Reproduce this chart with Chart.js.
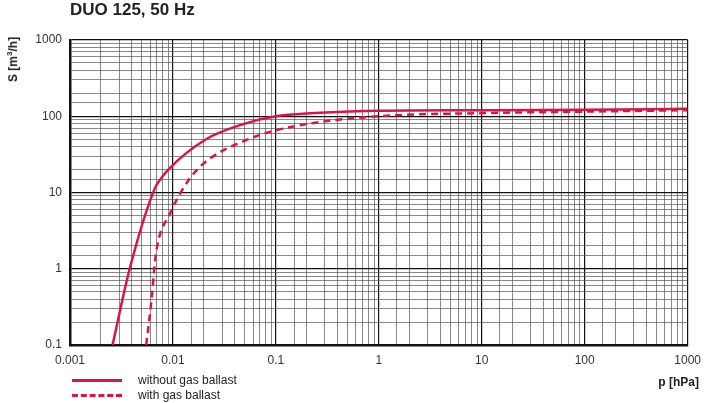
<!DOCTYPE html>
<html>
<head>
<meta charset="utf-8">
<script src="https://cdn.jsdelivr.net/npm/chart.js@4"></script>
<style>
body{margin:0;background:#fff;font-family:"Liberation Sans",Arial,sans-serif;}
#wrap{position:relative;width:709px;height:403px;}
#titulo{position:absolute;left:70px;top:0px;font-weight:bold;font-size:17px;color:#222;}
#ylab{position:absolute;left:-10px;top:52px;transform:rotate(-90deg);font-weight:bold;font-size:12px;color:#222;}
#xlab{position:absolute;right:10px;top:375px;font-weight:bold;font-size:12px;color:#222;}
.ley{position:absolute;left:72px;font-size:12px;color:#222;}
.ley span{display:inline-block;width:50px;margin-right:16px;vertical-align:middle;}
</style>
</head>
<body>
<div id="wrap">
<canvas id="grafica" width="709" height="403"></canvas>
<div id="titulo">DUO 125, 50 Hz</div>
<div id="ylab">S [m<sup style="font-size:8px">3</sup>/h]</div>
<div id="xlab">p [hPa]</div>
<div class="ley" style="top:373px"><span style="border-top:3px solid #dc1446"></span>without gas ballast</div>
<div class="ley" style="top:388px"><span style="border-top:3px dashed #dc1446"></span>with gas ballast</div>
</div>
<script>
'use strict'
//Datos
const p_sin = [0.00259, 0.0038, 0.0066, 0.0073, 0.009, 0.021, 0.05, 0.1, 0.3, 1, 10, 100, 1000];
const s_sin = [0.1, 1, 11, 14, 20, 50, 80, 100, 112, 118, 120, 122, 125];
const p_con = [0.0055, 0.0062, 0.0068, 0.0095, 0.0119, 0.0178, 0.054, 0.16, 1, 10, 100, 1000];
const s_con = [0.1, 0.4, 1.5, 5.5, 10, 21, 50, 75, 100, 110, 115, 120];
const ticksX = [0.001, 0.01, 0.1, 1, 10, 100, 1000];
const ticksY = [0.1, 1, 10, 100, 1000];

const rojo = '#dc1446';
const esMayor = v => Math.abs(Math.log10(v) - Math.round(Math.log10(v))) < 1e-6;

function puntos(xs, ys){
    return xs.map((x, i) => ({x: x, y: ys[i]}));
}

const gridOpc = {
    color: ctx => (ctx.tick && esMayor(ctx.tick.value)) ? '#111' : '#555',
    lineWidth: ctx => (ctx.tick && esMayor(ctx.tick.value)) ? 1.2 : 0.7,
    drawTicks: false
};

new Chart(document.getElementById('grafica').getContext('2d'), {
    type: 'line',
    data: {
        datasets: [{
            data: puntos(p_sin, s_sin),
            borderColor: rojo, borderWidth: 2.5, pointRadius: 0,
            cubicInterpolationMode: 'monotone'
        }, {
            data: puntos(p_con, s_con),
            borderColor: rojo, borderWidth: 2.5, pointRadius: 0, borderDash: [7, 5],
            cubicInterpolationMode: 'monotone'
        }]
    },
    options: {
        animation: false,
        responsive: false,
        layout: {padding: {top: 40, right: 10, left: 0, bottom: 0}},
        plugins: {legend: {display: false}, tooltip: {enabled: false}},
        scales: {
            x: {
                type: 'logarithmic', min: 0.001, max: 1000,
                afterFit: s => { s.height = 58; },
                grid: gridOpc,
                border: {color: '#111', width: 2.5},
                ticks: {
                    autoSkip: false, maxRotation: 0, padding: 8, color: '#333',
                    font: {family: 'Liberation Sans', size: 12},
                    callback: (v) => ticksX.some(t => Math.abs(t - v) / t < 1e-6) ? String(v) : ''
                }
            },
            y: {
                type: 'logarithmic', min: 0.1, max: 1000,
                afterFit: s => { s.width = 70; },
                grid: gridOpc,
                border: {color: '#111', width: 2.5},
                ticks: {
                    autoSkip: false, padding: 8, color: '#333',
                    font: {family: 'Liberation Sans', size: 12},
                    callback: (v) => ticksY.some(t => Math.abs(t - v) / t < 1e-6) ? String(v) : ''
                }
            }
        }
    }
});
</script>
</body>
</html>
